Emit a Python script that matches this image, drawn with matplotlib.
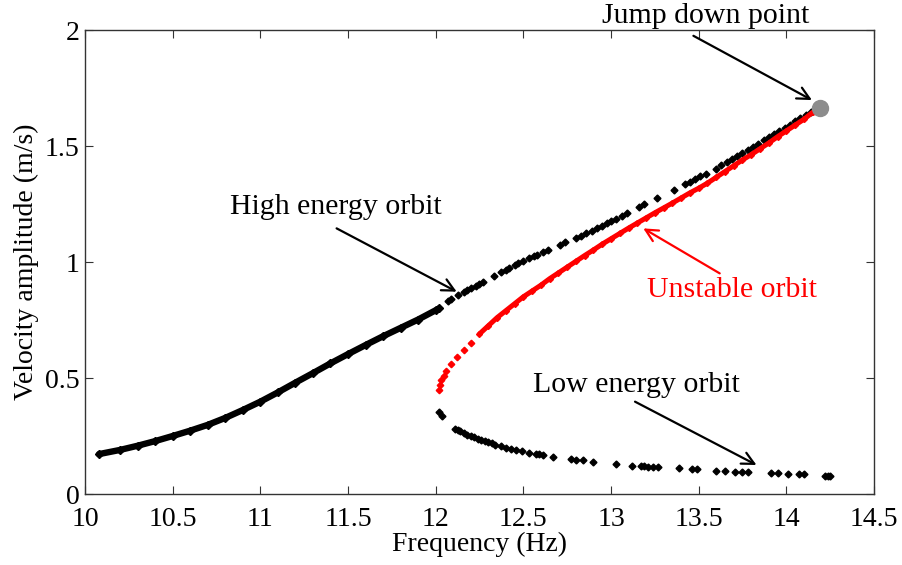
import matplotlib
matplotlib.use("Agg")
import matplotlib.pyplot as plt
import numpy as np

plt.rcParams['font.family'] = ['Liberation Serif', 'DejaVu Serif']

# High energy orbit: dense (continuous) part
high_dense_f = [10.08, 10.2, 10.3, 10.4, 10.5, 10.6, 10.7, 10.8, 10.9, 11.0,
                11.1, 11.2, 11.3, 11.4, 11.5, 11.6, 11.7, 11.8, 11.9, 12.0, 12.02]
high_dense_v = [0.172, 0.19, 0.208, 0.228, 0.25, 0.273, 0.298, 0.328, 0.362, 0.398,
                0.438, 0.48, 0.521, 0.563, 0.603, 0.642, 0.68, 0.716, 0.752, 0.792, 0.80]

# High energy orbit: sparse part
high_sparse_f = [12.07, 12.09, 12.13, 12.16, 12.18, 12.20, 12.23, 12.25, 12.27,
                 12.33, 12.37, 12.40, 12.42, 12.45, 12.47, 12.50, 12.53, 12.56, 12.58, 12.61, 12.64,
                 12.71, 12.74,
                 12.80, 12.83, 12.86, 12.89, 12.92, 12.95, 12.98, 13.00, 13.03, 13.06, 13.09,
                 13.16, 13.19, 13.26, 13.36,
                 13.42, 13.45, 13.48, 13.51, 13.54,
                 13.60, 13.63, 13.66, 13.69, 13.72, 13.75, 13.78, 13.81, 13.84, 13.87, 13.90,
                 13.93, 13.96, 13.99, 14.02, 14.05, 14.08, 14.11, 14.14, 14.16]
high_sparse_v = [0.833, 0.842, 0.858, 0.870, 0.878, 0.886, 0.898, 0.906, 0.914,
                 0.938, 0.955, 0.967, 0.975, 0.988, 0.996, 1.006, 1.016, 1.026, 1.032, 1.042, 1.052,
                 1.075, 1.085,
                 1.104, 1.114, 1.124, 1.135, 1.146, 1.157, 1.168, 1.176, 1.187, 1.199, 1.21,
                 1.237, 1.248, 1.275, 1.312,
                 1.335, 1.346, 1.358, 1.369, 1.38,
                 1.403, 1.416, 1.43, 1.443, 1.456, 1.47, 1.483, 1.497, 1.51, 1.524, 1.537,
                 1.551, 1.565, 1.578, 1.592, 1.606, 1.62, 1.633, 1.646, 1.655]

# Unstable orbit
unst_f = [12.02, 12.025, 12.03, 12.045, 12.06, 12.09, 12.12, 12.16, 12.20, 12.25,
          12.30, 12.35, 12.40, 12.45, 12.50, 12.55, 12.60, 12.65, 12.70, 12.75,
          12.80, 12.85, 12.90, 12.95, 13.00, 13.05, 13.10, 13.15, 13.20, 13.25,
          13.30, 13.35, 13.40, 13.45, 13.50, 13.55, 13.60, 13.65, 13.70, 13.75,
          13.80, 13.85, 13.90, 13.95, 14.00, 14.05, 14.10, 14.15]
unst_v = [0.45, 0.47, 0.49, 0.51, 0.53, 0.56, 0.59, 0.62, 0.65, 0.69,
          0.725, 0.76, 0.79, 0.82, 0.85, 0.875, 0.90, 0.928, 0.953, 0.978,
          1.003, 1.028, 1.052, 1.077, 1.10, 1.123, 1.146, 1.168, 1.19, 1.212,
          1.233, 1.254, 1.276, 1.298, 1.318, 1.34, 1.365, 1.39, 1.415, 1.44,
          1.463, 1.488, 1.513, 1.54, 1.565, 1.59, 1.615, 1.645]

# Low energy orbit
low_f = [12.02, 12.035, 12.11, 12.125, 12.14, 12.16, 12.18, 12.20, 12.22, 12.24,
         12.26, 12.28, 12.30, 12.32, 12.34, 12.37, 12.40, 12.43, 12.46, 12.49,
         12.53, 12.57, 12.59, 12.61, 12.67, 12.77, 12.80, 12.84, 12.90, 13.03,
         13.12, 13.17, 13.19, 13.21, 13.24, 13.27, 13.39, 13.46, 13.49, 13.60,
         13.65, 13.71, 13.745, 13.78, 13.91, 13.95, 14.01, 14.07, 14.10, 14.22,
         14.235, 14.25]
low_v = [0.355, 0.338, 0.282, 0.276, 0.270, 0.263, 0.256, 0.250, 0.244, 0.238,
         0.233, 0.228, 0.223, 0.218, 0.213, 0.207, 0.200, 0.195, 0.190, 0.184,
         0.178, 0.174, 0.172, 0.170, 0.161, 0.149, 0.147, 0.145, 0.139, 0.128,
         0.122, 0.120, 0.119, 0.118, 0.117, 0.117, 0.111, 0.108, 0.108, 0.100,
         0.100, 0.095, 0.095, 0.095, 0.092, 0.092, 0.085, 0.085, 0.085, 0.079,
         0.079, 0.079]

jump_f = [14.19]
jump_v = [1.662]

xticks = [10, 10.5, 11, 11.5, 12, 12.5, 13, 13.5, 14, 14.5]
xticklabels = ['10', '10.5', '11', '11.5', '12', '12.5', '13', '13.5', '14', '14.5']
yticks = [0, 0.5, 1, 1.5, 2]
yticklabels = ['0', '0.5', '1', '1.5', '2']

fig = plt.figure(figsize=(9.02, 5.65), dpi=100)
ax = fig.add_axes([85/902, 1-494/565, (874-85)/902, (494-30)/565])

ax.plot(high_dense_f, high_dense_v, color='k', lw=4.6, marker='D', ms=4.0,
        solid_capstyle='round', zorder=3)
ax.plot(high_sparse_f, high_sparse_v, color='k', lw=0, marker='D', ms=3.5, zorder=3)
# unstable: sparse bottom markers + continuous band
ax.plot(unst_f[:9], unst_v[:9], color='red', lw=0, marker='D', ms=3.3, zorder=3)
ax.plot(unst_f[9:], unst_v[9:], color='red', lw=3.6, marker='D', ms=3.0,
        solid_capstyle='round', zorder=3)
ax.plot(low_f, low_v, color='k', lw=0, marker='D', ms=3.5, zorder=3)
ax.plot(jump_f, jump_v, color='#8c8c8c', marker='o', ms=11.5, lw=0, zorder=4,
        clip_on=False)

ax.set_xlim(10, 14.5)
ax.set_ylim(0, 2)
ax.set_xticks(xticks)
ax.set_xticklabels(xticklabels)
ax.set_yticks(yticks)
ax.set_yticklabels(yticklabels)
ax.tick_params(direction='in', length=5.5, width=0.8, top=True, right=True,
               labelsize=20, color='#333333')
ax.tick_params(axis='x', pad=9)
ax.tick_params(axis='y', pad=4)
for s in ax.spines.values():
    s.set_linewidth(1.0)
    s.set_color('#333333')

ax.set_xlabel('Frequency (Hz)', fontsize=20, labelpad=0)
ax.set_ylabel('Velocity amplitude (m/s)', fontsize=20, labelpad=4)

arrow = dict(arrowstyle='->', color='k', lw=1.6, mutation_scale=22, shrinkA=0, shrinkB=0)
ax.text(13.54, 2.06, 'Jump down point', fontsize=21.5, ha='center', va='center',
        clip_on=False)
ax.annotate('', xy=(14.146, 1.698), xytext=(13.47, 1.975),
            annotation_clip=False, arrowprops=arrow)

ax.text(11.43, 1.237, 'High energy orbit', fontsize=21.5, ha='center', va='center')
ax.annotate('', xy=(12.12, 0.872), xytext=(11.435, 1.145), arrowprops=arrow)

ax.text(13.69, 0.879, 'Unstable orbit', fontsize=21.5, ha='center', va='center', color='red')
ax.annotate('', xy=(13.184, 1.145), xytext=(13.62, 0.951),
            arrowprops=dict(arrow, color='red'))

ax.text(13.146, 0.47, 'Low energy orbit', fontsize=21.5, ha='center', va='center')
ax.annotate('', xy=(13.83, 0.125), xytext=(13.137, 0.398), arrowprops=arrow)

fig.savefig('out.png', dpi=100)
